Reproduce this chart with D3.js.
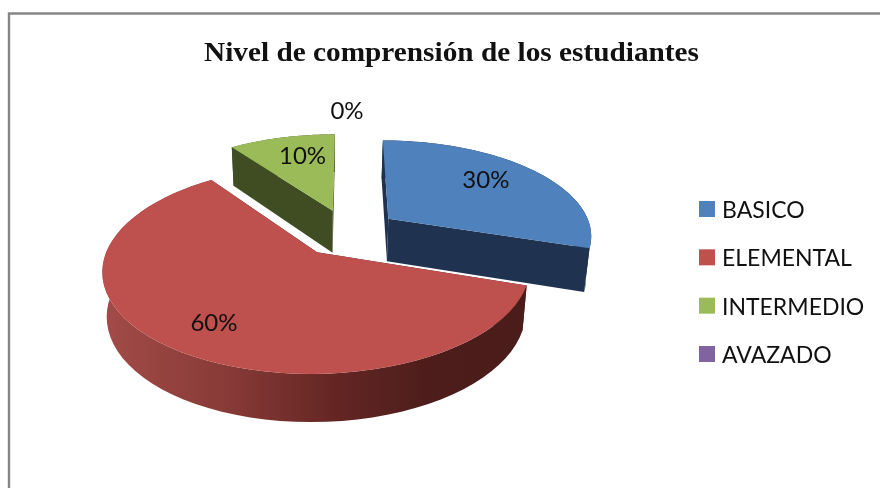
<!DOCTYPE html>
<html><head><meta charset="utf-8">
<style>html,body{margin:0;padding:0;background:#fff;overflow:hidden}svg{display:block}</style>
<script src="https://cdn.jsdelivr.net/npm/d3@7"></script>
</head><body><svg id="c" width="880" height="488"></svg>
<script>
const chartTitle = "Nivel de comprensión de los estudiantes";
const categories = ["BASICO","ELEMENTAL","INTERMEDIO","AVAZADO"];
const values = [30,60,10,0];
const topColors = ["#4F81BD","#BE504E","#9BBB59","#8064A2"];
const sideColors = ["#1F3350","#4A1C1A","#404D22","#33284A"];

// projection of the tilted pie plane
const O = {x:348, y:232.5}, R = 204, K = 95, P = 0.16, EXPLODE_U = 0.25, EXPLODE_V = 0.25;
const DEPTH = 43, DEPTH_V = 0.1, VX = 320, BOTTOM_SCALE = 0.98;
const project = (U,V) => { const s = 1/(1-P*V); return [O.x+R*U*s, O.y+K*V*s]; };
const lower = (U,V) => { const [x,y] = project(U,V);
  return [VX+(x-VX)*BOTTOM_SCALE, y+DEPTH*(1+DEPTH_V*V)]; };

const svg = d3.select("#c");
const defs = svg.append("defs");
const grad = defs.append("linearGradient").attr("id","redWall").attr("gradientUnits","userSpaceOnUse")
  .attr("x1",102).attr("x2",526).attr("y1",0).attr("y2",0);
[[0,"#A34B48"],[0.3,"#873A37"],[0.55,"#642623"],[0.78,"#4C1D1B"],[1,"#4A1C1A"]].forEach(s=>
  grad.append("stop").attr("offset",s[0]).attr("stop-color",s[1]));

svg.append("rect").attr("width",880).attr("height",488).attr("fill","#fff");
svg.append("path").attr("d","M9,488V13.5H880").attr("fill","none").attr("stroke","#868686").attr("stroke-width",2.4);

const root = svg.append("g").style("filter","blur(0.35px)");
const arcs = d3.pie().sort(null).value(d=>d)(values);
const color = d3.scaleOrdinal(categories, topColors);
const side = d3.scaleOrdinal(categories, sideColors);
const line = d3.line();

const geom = arcs.map((a,i)=>{
  const mid = (a.startAngle+a.endAngle)/2;
  const off = [EXPLODE_U*Math.sin(mid), -EXPLODE_V*Math.cos(mid)];
  const pts = d3.range(0,61).map(j=>{
    const t = a.startAngle+(a.endAngle-a.startAngle)*j/60;
    return [off[0]+Math.sin(t), off[1]-Math.cos(t)];
  });
  return {i,a,mid,off,pts,cat:categories[i]};
});

// draw order: back to front
[2,1,0].forEach(i=>{
  const g = geom[i], group = root.append("g");
  const top = g.pts.map(p=>project(p[0],p[1]));
  const bot = g.pts.map(p=>lower(p[0],p[1]));
  const cTop = project(g.off[0],g.off[1]), cBot = lower(g.off[0],g.off[1]);
  const sideFill = side(g.cat);
  // cut faces
  group.append("path").attr("d",line([cTop,top[0],bot[0],cBot])+"Z").attr("fill",sideFill);
  group.append("path").attr("d",line([cTop,top[60],bot[60],cBot])+"Z").attr("fill",sideFill);
  // outer wall
  group.append("path").attr("d",line(top.concat(bot.slice().reverse()))+"Z")
    .attr("fill",i===1?"url(#redWall)":sideFill);
  // top face
  group.append("path").attr("d",line([cTop].concat(top))+"Z").attr("fill",color(g.cat));
});

// percentage labels
const labelFont = "Lato, 'Open Sans', sans-serif";
const labelR = [0.75,0.72,0.62,1.25];
const labelNudge = [[-13,-3],[-1,4],[3,-9],[-1,-8]];
geom.forEach((g,i)=>{
  const [x,y] = project(g.off[0]+labelR[i]*Math.sin(g.mid), g.off[1]-labelR[i]*Math.cos(g.mid));
  root.append("text").attr("x",x+labelNudge[i][0]).attr("y",y+labelNudge[i][1])
    .attr("text-anchor","middle").attr("dominant-baseline","central")
    .attr("font-family",labelFont).attr("font-size",24).attr("fill","#111")
    .text(d3.format(".0%")(values[i]/d3.sum(values)));
});

// title
root.append("text").attr("x",451.5).attr("y",61).attr("text-anchor","middle")
  .attr("font-family","'Liberation Serif', serif").attr("font-weight","bold").attr("font-size",28)
  .attr("textLength",495).attr("lengthAdjust","spacingAndGlyphs").attr("fill","#111").text(chartTitle);

// legend
const legendY = d3.scalePoint(categories,[209,354]);
const legend = root.selectAll("g.leg").data(categories).join("g").attr("class","leg")
  .attr("transform",d=>`translate(699,${legendY(d)})`);
legend.append("rect").attr("y",-8).attr("width",16).attr("height",16).attr("fill",d=>color(d));
legend.append("text").attr("x",23).attr("dominant-baseline","central")
  .attr("font-family",labelFont).attr("font-size",23).attr("fill","#111").text(d=>d);
</script></body></html>
